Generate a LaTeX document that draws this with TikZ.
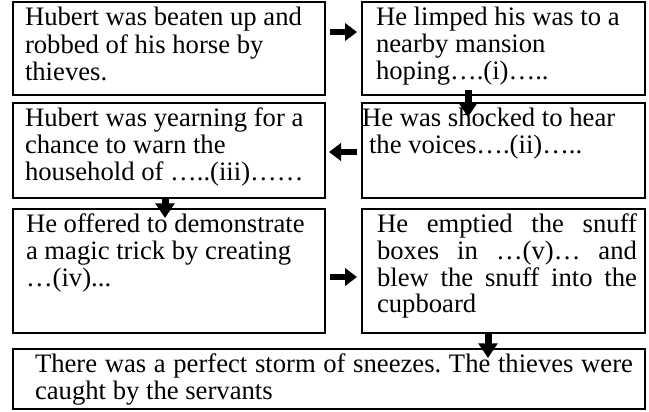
\documentclass[tikz,border=0pt]{standalone}
\usepackage{fontspec}
\setmainfont{Liberation Serif}
\usetikzlibrary{arrows.meta,calc,positioning}
\frenchspacing
\newdimen\pxu \pxu=0.75pt
% height, width, text (in px units)
\newcommand{\storytext}[3]{\parbox[b][#1\pxu][t]{#2\pxu}{\vspace*{5\pxu}\strut #3}}
\tikzset{
  storybox/.style={draw, line width=1.5pt, anchor=north west, inner sep=0pt, outer sep=0pt},
  hblock/.style={line width=5pt, -{Triangle[length=9pt,width=13pt]}},
  vblock/.style={line width=5.25pt, -{Triangle[length=11pt,width=14pt]}}
}

\begin{document}
\begin{tikzpicture}[x=0.75pt,y=-0.75pt,font=\fontsize{20pt}{20pt}\selectfont]
  \useasboundingbox (0,0) rectangle (649,411);
  % row 1
  \node[storybox] (b1) at (13,2) {\storytext{93}{312}{\leftskip=12\pxu
    Hubert was beaten up and\\ robbed of his horse by\\ thieves.}};
  \node[storybox] (b2) at (362,2) {\storytext{93}{283}{\leftskip=14\pxu
    He limped his was to a\\ nearby mansion\\ hoping….(i)…..}};
  % row 2
  \node[storybox] (b3) at (362,103) {\storytext{95}{283}{\leftskip=7\pxu
    \hspace*{-7\pxu}He was shocked to hear\\ the voices….(ii)…..}};
  \node[storybox] (b4) at (13,103) {\storytext{95}{312}{\leftskip=12\pxu
    Hubert was yearning for a\\ chance to warn the\\ household of …..(iii)……}};
  % row 3
  \node[storybox] (b5) at (13,209) {\storytext{124}{312}{\leftskip=13\pxu
    He offered to demonstrate\\ a magic trick by creating\\ …(iv)...}};
  \node[storybox] (b6) at (362,209) {\storytext{124}{283}{\leftskip=15\pxu \rightskip=8\pxu
    He emptied the snuff\linebreak boxes in …(v)… and\linebreak
    blew the snuff into the\linebreak cupboard}};
  % last row
  \node[storybox] (b7) at (13,349) {\storytext{60}{632}{\leftskip=22\pxu \rightskip=12\pxu
    There was a perfect storm of sneezes. The thieves were\linebreak
    caught by the servants}};

  % arrows
  \draw[hblock] ($(b1.north east)+(5,30)$) -- ($(b2.north west)+(-5,30)$);
  \draw[vblock] ($(b2.south west)+(106,-5)$) -- ($(b3.north west)+(106,14)$);
  \draw[hblock] ($(b3.north west)+(-5,49)$) -- ($(b4.north east)+(4,49)$);
  \draw[vblock] ($(b4.south west)+(152,-1)$) -- ($(b5.north west)+(152,9)$);
  \draw[hblock] ($(b5.north east)+(5,68)$) -- ($(b6.north west)+(-5,68)$);
  \draw[vblock] ($(b6.south west)+(126,-1)$) -- ($(b7.north west)+(475,9)$);
\end{tikzpicture}
\end{document}
